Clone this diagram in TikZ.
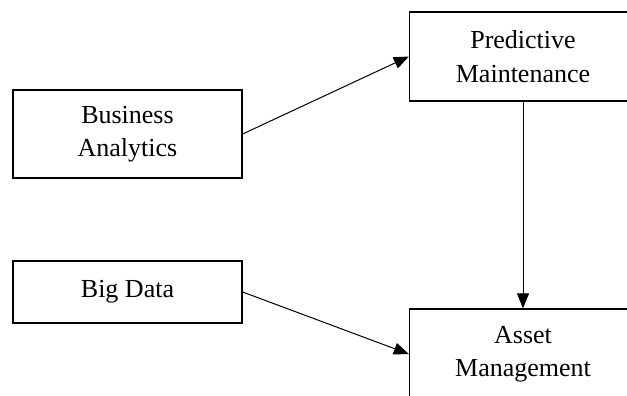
\documentclass[tikz,border=0pt]{standalone}
\usepackage{fontspec}
\setmainfont{Liberation Serif}
\usetikzlibrary{arrows.meta}
\tikzset{
  box/.style={draw=black, line width=1.3pt, minimum width=#1, inner sep=0pt, align=center,
    font=\fontsize{26}{33.5}\selectfont},
  conn/.style={draw=black, line width=1pt, -{Triangle[length=15pt,width=12pt]}}
}
\begin{document}
\begin{tikzpicture}[x=1pt,y=-1pt]
\useasboundingbox (0,0) rectangle (627,396);
\clip (0,0) rectangle (627,396);
\node[box=229pt, minimum height=88pt] (ba) at (127.5,134) {Business\\Analytics};
\node[box=229pt, minimum height=62pt] (bd) at (127.5,292) {Big Data};
\node[box=227pt, minimum height=89pt] (pm) at (523,56.5) {Predictive\\Maintenance};
\node[box=227pt, minimum height=90pt] (am) at (523,354) {Asset\\Management};
\draw[conn] (ba.east) -- (pm.west);
\draw[conn] (bd.east) -- (am.west);
\draw[conn] (pm.south) -- (am.north);
\end{tikzpicture}
\end{document}
